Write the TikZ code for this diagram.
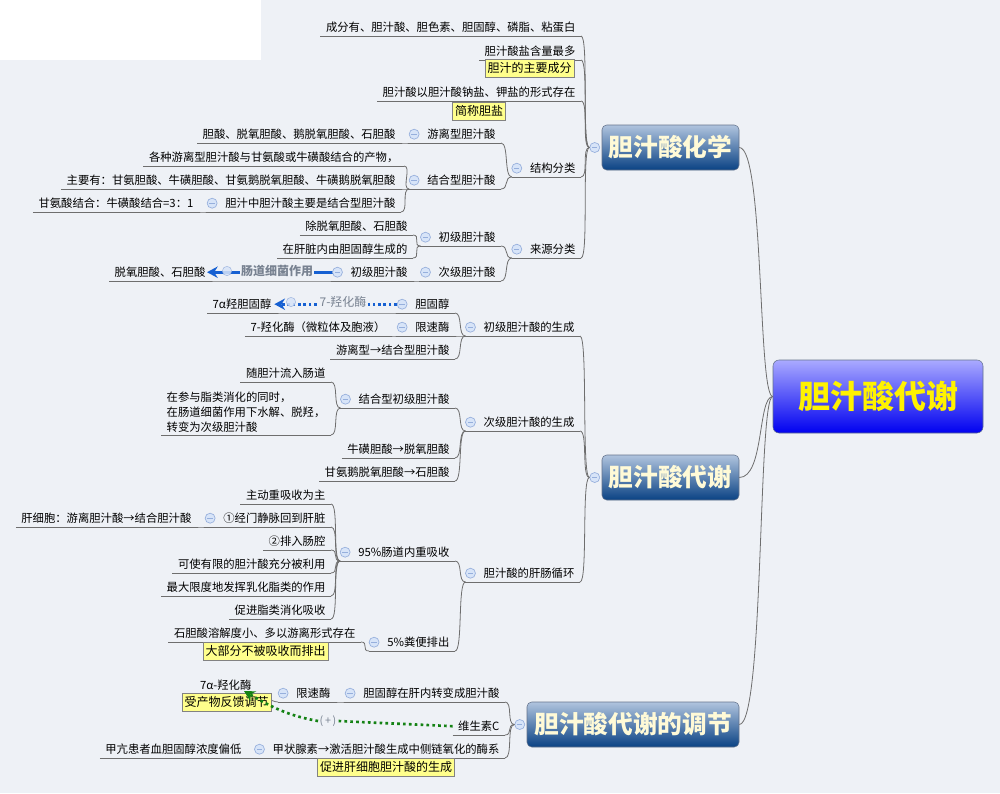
\documentclass[tikz,border=0pt]{standalone}
\usepackage{fontspec}
\setmainfont{Noto Sans CJK SC}   % CJK text
\usetikzlibrary{arrows.meta}
\definecolor{bgc}{RGB}{238,241,246}
\definecolor{linec}{RGB}{110,110,110}
\definecolor{markfill}{RGB}{215,228,248}
\definecolor{markline}{RGB}{150,175,220}
\definecolor{notefill}{RGB}{255,255,140}
\definecolor{notebd}{RGB}{130,130,130}
\definecolor{relblue}{RGB}{22,96,210}
\definecolor{relgreen}{RGB}{20,130,20}
\definecolor{labgray}{RGB}{120,130,145}
\definecolor{brtop}{RGB}{176,196,222}
\definecolor{brbot}{RGB}{10,66,132}
\definecolor{brtxt}{RGB}{255,250,215}
\definecolor{brbd}{RGB}{100,115,140}
\definecolor{roottop}{RGB}{170,170,255}
\definecolor{rootbot}{RGB}{0,0,240}
\tikzset{
  conn/.style={draw=linec, line width=0.6pt},
  topic/.style={anchor=south east, font=\fontsize{8.5pt}{11.25pt}\selectfont,
                inner xsep=4pt, inner ysep=2pt, text height=7.5pt, text depth=1.3pt},
  fold/.style={execute at begin node={\hspace*{9.5pt}}},
  foldmk/.style={circle, draw=markline, fill=markfill, minimum size=7.5pt, inner sep=0pt,
                 line width=0.5pt,
                 path picture={\draw[markline, line width=0.7pt]
                   ([xshift=-2pt]path picture bounding box.center) --
                   ([xshift=2pt]path picture bounding box.center);}},
  relmk/.style={circle, draw=markline, fill=markfill, minimum size=7pt, inner sep=0pt, opacity=0.85},
  note/.style={draw=notebd, fill=notefill, font=\fontsize{9pt}{10pt}\selectfont,
               inner xsep=2pt, inner ysep=2.2pt, text height=7.8pt, text depth=1.4pt},
  rellab/.style={fill=bgc, inner sep=1pt, text=labgray, font=\fontsize{9pt}{10pt}\selectfont},
  branch/.style={draw=brbd, rounded corners=3.5pt, top color=brtop, bottom color=brbot,
                 text=brtxt, font=\fontsize{18.5pt}{20pt}\selectfont\bfseries,
                 minimum height=33.75pt, inner sep=0pt},
  rootbox/.style={draw=brbd, rounded corners=4.5pt, top color=roottop, bottom color=rootbot,
                  text=yellow, font=\fontsize{24pt}{26pt}\selectfont\bfseries,
                  minimum width=157.5pt, minimum height=54.75pt, inner sep=0pt},
  relarr/.style={line width=2pt, -{Stealth[length=8pt,width=8.5pt]}}
}
\begin{document}
\begin{tikzpicture}[x=0.75pt,y=-0.75pt]
\useasboundingbox (0,0) rectangle (1000,793);
\fill[bgc] (0,0) rectangle (1000,793);
\fill[white] (0,0) rectangle (261,60);

% central topic and main branches
\node[rootbox] (root) at (878,396.5) {胆汁酸代谢};
\node[branch, minimum width=102.75pt] (b1) at (670.5,147.5) {胆汁酸化学};
\node[branch, minimum width=102.75pt] (b2) at (670.5,477.5) {胆汁酸代谢};
\node[branch, minimum width=159pt] (b3) at (633,724.5) {胆汁酸代谢的调节};

% 胆汁酸化学
\node[topic] (cf) at (581,36) {成分有、胆汁酸、胆色素、胆固醇、磷脂、粘蛋白};
\node[topic] (hl) at (581,60) {胆汁酸盐含量最多};
\node[topic] (xs) at (581,101) {胆汁酸以胆汁酸钠盐、钾盐的形式存在};
\node[topic,fold] (jg) at (581,177) {结构分类};
\node[topic,fold] (ly) at (581,258) {来源分类};
\node[topic,fold] (yl) at (501,143) {游离型胆汁酸};
\node[topic] (yl1) at (401,143) {胆酸、脱氧胆酸、鹅脱氧胆酸、石胆酸};
\node[topic,fold] (jh) at (501,189) {结合型胆汁酸};
\node[topic] (jh1) at (404,166) {各种游离型胆汁酸与甘氨酸或牛磺酸结合的产物，};
\node[topic] (jh2) at (401,189) {主要有：甘氨胆酸、牛磺胆酸、甘氨鹅脱氧胆酸、牛磺鹅脱氧胆酸};
\node[topic,fold] (jh3) at (401,212) {胆汁中胆汁酸主要是结合型胆汁酸};
\node[topic] (jh31) at (199,212) {甘氨酸结合：牛磺酸结合=3：1};
\node[topic,fold] (cj) at (501,246) {初级胆汁酸};
\node[topic] (cj1) at (413,235) {除脱氧胆酸、石胆酸};
\node[topic] (cj2) at (413,258) {在肝脏内由胆固醇生成的};
\node[topic,fold] (cjj) at (501,281) {次级胆汁酸};
\node[topic,fold] (cjj1) at (413,281) {初级胆汁酸};
\node[topic] (cjj11) at (211,281) {脱氧胆酸、石胆酸};

% 胆汁酸代谢
\node[topic,fold] (cs) at (580,336) {初级胆汁酸的生成};
\node[topic,fold] (dgc) at (455,313) {胆固醇};
\node[topic] (qhc) at (277,313) {7α羟胆固醇};
\node[topic,fold] (xsm) at (455,336) {限速酶};
\node[topic] (xsm1) at (391,336) {7-羟化酶（微粒体及胞液）};
\node[topic] (yj) at (455,359) {游离型→结合型胆汁酸};
\node[topic,fold] (cc) at (580,431) {次级胆汁酸的生成};
\node[topic,fold] (jhc) at (455,408) {结合型初级胆汁酸};
\node[topic] (jhc1) at (331,382) {随胆汁流入肠道};
\node[topic, align=left, text height=, text depth=] (jhc2) at (331,435)
  {在参与脂类消化的同时，\\在肠道细菌作用下水解、脱羟，\\转变为次级胆汁酸};
\node[topic] (nh) at (455,458) {牛磺胆酸→脱氧胆酸};
\node[topic] (gae) at (455,481) {甘氨鹅脱氧胆酸→石胆酸};
\node[topic,fold] (gc) at (580,582) {胆汁酸的肝肠循环};
\node[topic,fold] (cd) at (455,561) {95\%肠道内重吸收};
\node[topic] (z1) at (331,504) {主动重吸收为主};
\node[topic,fold] (z2) at (331,527) {①经门静脉回到肝脏};
\node[topic] (z21) at (197,527) {肝细胞：游离胆汁酸→结合胆汁酸};
\node[topic] (z3) at (331,550) {②排入肠腔};
\node[topic] (z4) at (331,573) {可使有限的胆汁酸充分被利用};
\node[topic] (z5) at (331,596) {最大限度地发挥乳化脂类的作用};
\node[topic] (z6) at (331,619) {促进脂类消化吸收};
\node[topic,fold] (fb) at (455,651) {5\%粪便排出};
\node[topic] (fb1) at (361,642) {石胆酸溶解度小、多以游离形式存在};

% 胆汁酸代谢的调节
\node[topic,fold] (zb) at (505,702) {胆固醇在肝内转变成胆汁酸};
\node[topic,fold] (xs2) at (336,702) {限速酶};
\node[topic] (qh) at (257,694) {7α-羟化酶};
\node[topic] (wc) at (505,735) {维生素C};
\node[topic,fold] (jz) at (505,758) {甲状腺素→激活胆汁酸生成中侧链氧化的酶系};
\node[topic] (jz1) at (247,758) {甲亢患者血胆固醇浓度偏低};

% underlines
\foreach \nd in {cf,hl,xs,jg,ly,yl,yl1,jh,jh1,jh2,jh3,jh31,cj,cj1,cj2,cjj,cjj1,cjj11,
                 cs,dgc,qhc,xsm,xsm1,yj,cc,jhc,jhc1,jhc2,nh,gae,gc,cd,z1,z2,z21,z3,z4,z5,z6,fb,fb1,
                 zb,xs2,qh,wc,jz,jz1}
  \draw[conn] (\nd.south west) -- (\nd.south east);

% connectors
\foreach \b in {b1,b2,b3}
  \draw[conn] (root.west) .. controls +(-15,0) and +(25,0) .. (\b.east);
\node[foldmk] (b1m) at ([xshift=-5.25pt]b1.west) {};
\node[foldmk] (b2m) at ([xshift=-5.25pt]b2.west) {};
\node[foldmk] (b3m) at ([xshift=-5.25pt]b3.west) {};
\foreach \nd/\b in {cf/b1m,hl/b1m,xs/b1m,jg/b1m,ly/b1m,cs/b2m,cc/b2m,gc/b2m,zb/b3m,wc/b3m,jz/b3m}
  \draw[conn] (\nd.south east) .. controls +(8,0) and +(-8,0) .. (\b.west);
\foreach \nd/\pa in {yl/jg,jh/jg,yl1/yl,jh1/jh,jh2/jh,jh3/jh,jh31/jh3,cj/ly,cjj/ly,cj1/cj,cj2/cj,
                     cjj1/cjj,cjj11/cjj1,dgc/cs,xsm/cs,yj/cs,qhc/dgc,xsm1/xsm,jhc/cc,nh/cc,gae/cc,
                     jhc1/jhc,jhc2/jhc,cd/gc,fb/gc,z1/cd,z2/cd,z3/cd,z4/cd,z5/cd,z6/cd,z21/z2,fb1/fb,
                     xs2/zb,qh/xs2,jz1/jz}
  \draw[conn] (\nd.south east) .. controls +(8,0) and +(-8,0) .. (\pa.south west);

% relations
\draw[relblue, relarr] ([xshift=3.75pt]cjj1.west) -- ([xshift=-3pt]cjj11.east);
\node[rellab, font=\fontsize{9pt}{10pt}\selectfont\bfseries] (lb1) at (277,271) {肠道细菌作用};
\node[relmk] (rk1) at (227,271) {};
\draw[relblue, relarr, dash pattern=on 2pt off 2pt] ([xshift=3.75pt]dgc.west) -- ([xshift=-2pt]qhc.east);
\node[rellab] (lb2) at (343,302) {7-羟化酶};
\node[relmk] (rk2) at (291,302) {};
\node[rellab, font=\fontsize{8pt}{9pt}\selectfont] (lb3) at (328,721) {(\,+\,)};
\draw[relgreen, line width=2pt, dash pattern=on 2pt off 2.4pt] (wc.west) -- (lb3.east);

% notes
\node[note] (y1) at (529.5,68) {胆汁的主要成分};
\node[note] (y2) at (479,111) {简称胆盐};
\node[note] (y3) at (265.5,651) {大部分不被吸收而排出};
\node[note] (y4) at (226.5,702.5) {受产物反馈调节};
\node[note] (y5) at (386,767) {促进肝细胞胆汁酸的生成};
\draw[relgreen, relarr, dash pattern=on 2pt off 2.4pt] (lb3.west) to[out=170,in=-30]
  ([xshift=-9.75pt,yshift=2.25pt]qh.south east);

% fold markers
\foreach \nd in {jg,ly,yl,jh,jh3,cj,cjj,cjj1,cs,dgc,xsm,cc,jhc,gc,cd,z2,fb,zb,xs2,jz}
  \node[foldmk] (m\nd) at ([xshift=3.75pt]\nd.west) {};
\end{tikzpicture}
\end{document}
